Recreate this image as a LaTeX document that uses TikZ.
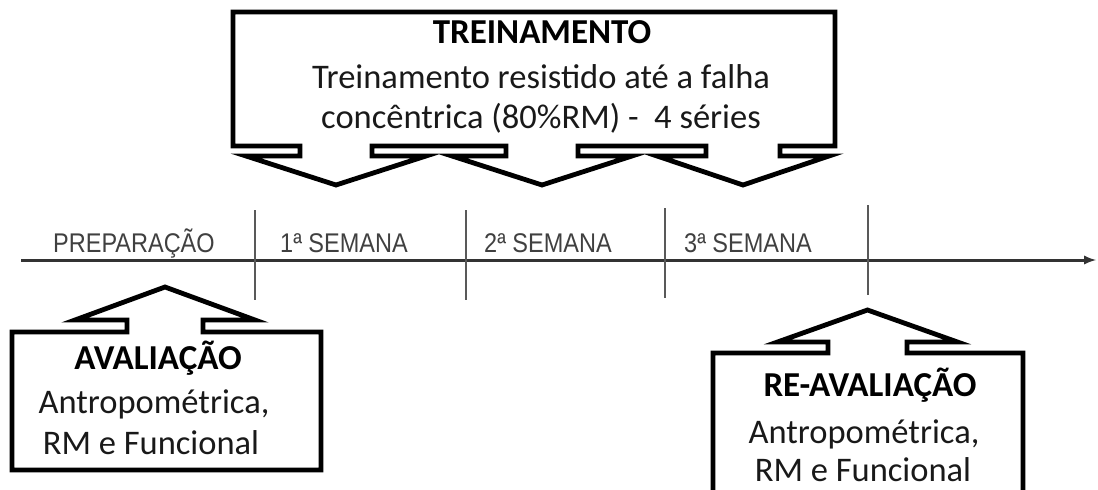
\documentclass[tikz,border=0pt]{standalone}
\usepackage{fontspec}
\setmainfont{Carlito}
\newfontfamily\arialfont{Liberation Sans}
\usetikzlibrary{arrows}
\newcommand{\blockarrow}[6]{-- ({#1-#3},#2) -- ({#1-#3},{#2+#5}) -- ({#1-#4},{#2+#5}) -- (#1,{#2+#6}) -- ({#1+#4},{#2+#5}) -- ({#1+#3},{#2+#5}) -- ({#1+#3},#2)}
\newcommand{\tall}[1]{\scalebox{1}[1.15]{#1}}

\begin{document}
\begin{tikzpicture}[
      x=1pt, y=-1pt,
      shape line/.style={line width=4.8pt, draw=black, line join=miter},
      axis/.style={line width=3pt, draw=black!80, ->, >=latex},
      tick/.style={line width=1.3pt, draw=black!65},
      week/.style={font=\arialfont\fontsize{23.5}{26}\selectfont, text=black!75, anchor=base west, inner sep=0pt},
      title/.style={font=\bfseries\fontsize{35}{40}\selectfont, anchor=base, inner sep=0pt},
      body/.style={font=\fontsize{34.5}{40}\selectfont, text=black!90, anchor=base, inner sep=0pt}
      ]
      \useasboundingbox (0,0) rectangle (1098,490);
      \clip (0,0) rectangle (1098,490);

      % timeline
      \coordinate (start) at (21,260);
      \coordinate (end) at (1096,260);
      \path (start) edge [axis] (end);
      \foreach \name/\x/\top/\bot in {prep/255/210/300, sem1/466/210/300, sem2/665/208/298, sem3/868/205/295} {
        \coordinate (\name top) at (\x,\top);
        \coordinate (\name bot) at (\x,\bot);
        \path (\name top) edge [tick] (\name bot);
      }
      \node[week] (prep) at (53,252) {\tall{PREPARAÇÃO}};
      \node[week] (sem1) at (280,252) {\tall{1ª SEMANA}};
      \node[week] (sem2) at (484,252) {\tall{2ª SEMANA}};
      \node[week] (sem3) at (684,252) {\tall{3ª SEMANA}};

      % treinamento
      \draw[shape line] (835,146) -- (835,12) -- (233,12) -- (233,146)
        \blockarrow{336}{146}{36}{90}{10}{39}
        \blockarrow{542}{146}{36}{90}{10}{39}
        \blockarrow{743}{146}{37}{86}{10}{39} -- cycle;
      \node[title] (treino) at (542,43) {TREINAMENTO};
      \node[body] (treino1) at (541,88) {Treinamento resistido até a falha};
      \node[body] (treino2) at (541,128) {concêntrica (80\%RM) -\ \ 4 séries};

      % avaliacao
      \draw[shape line] (12,470) -- (12,332)
        \blockarrow{165}{332}{38}{90}{-12}{-45} -- (321,332) -- (321,470) -- cycle;
      \node[title] (aval) at (158,369) {AVALIAÇÃO};
      \node[body] (aval1) at (154,413) {Antropométrica,};
      \node[body] (aval2) at (151,454) {RM e Funcional};

      % re-avaliacao
      \draw[shape line] (713,500) -- (713,353)
        \blockarrow{867.5}{353}{39.5}{90}{-11}{-43} -- (1023,353) -- (1023,500);
      \node[title] (reaval) at (870,396) {RE-AVALIAÇÃO};
      \node[body] (reaval1) at (864,443) {Antropométrica,};
      \node[body] (reaval2) at (863,481) {RM e Funcional};
    \end{tikzpicture}
\end{document}
